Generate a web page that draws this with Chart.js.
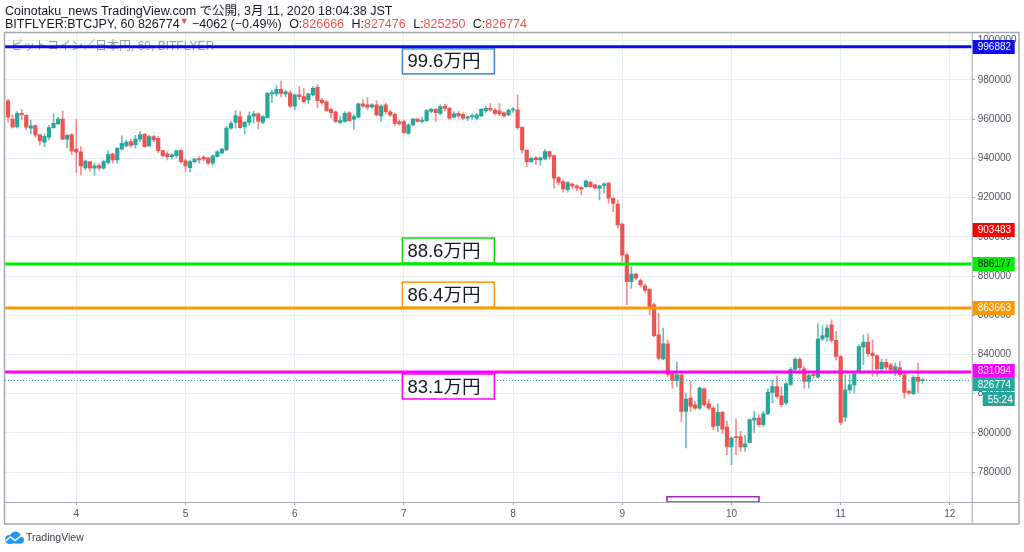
<!DOCTYPE html>
<html>
<head>
<meta charset="utf-8">
<script src="https://cdn.jsdelivr.net/npm/chart.js@4.4.1/dist/chart.umd.min.js"></script>
<style>
  html, body { margin: 0; padding: 0; background: #fff; overflow: hidden; }
  canvas { display: block; }
</style>
</head>
<body>
<canvas id="chart" width="1024" height="552"></canvas>
<script>
// BITFLYER:BTCJPY 60分足, 3/3 09:00 ～ 3/11 18:00 JST
const startDay = 3;
const startHour = 9;

const openP = [
  969300, 960100, 956200, 963000, 962000, 955400, 956700, 952000, 948300, 950800,
  955700, 957600, 960100, 949800, 952100, 944700, 943300, 935100, 938200, 935000,
  936300, 935000, 937900, 942300, 939200, 944700, 946400, 948600, 947000, 949800,
  952300, 946400, 951100, 950300, 944000, 942300, 940900, 941400, 944000, 938800,
  935300, 938400, 939900, 940600, 940300, 937600, 941000, 942800, 944300, 955400,
  958300, 961300, 956200, 958300, 961500, 962700, 958300, 960800, 972900, 972900,
  975200, 972900, 973500, 966700, 972400, 971500, 969800, 972400, 976300, 969800,
  968900, 965000, 963800, 958300, 958800, 963300, 960000, 961000, 967800, 967300,
  966300, 967300, 961700, 967300, 963800, 962500, 958800, 958800, 952800, 957100,
  960000, 958800, 959300, 963900, 965000, 963000, 966700, 965500, 961000, 963000,
  962500, 960500, 961300, 960500, 961700, 964400, 965500, 964700, 964200, 963300,
  962200, 964700, 964700, 955900, 944200, 938400, 940300, 939200, 939800, 943500,
  941400, 930200, 928200, 924000, 926900, 926000, 925200, 925600, 927900, 926500,
  924700, 926200, 927400, 919700, 916700, 906500, 890800, 877200, 881000, 877700,
  875000, 873300, 865400, 850100, 837700, 845500, 830200, 826800, 829700, 811000,
  817800, 814400, 812700, 822500, 814800, 812700, 803700, 810500, 803000, 792900,
  798200, 798200, 792900, 795000, 806500, 807600, 804200, 809800, 820700, 823700,
  819000, 815300, 824800, 832400, 837500, 832700, 826300, 829700, 828500, 847900,
  848900, 855200, 847200, 839000, 808100, 822000, 824500, 831600, 843800, 846400,
  840800, 839400, 832700, 836000, 834800, 830600, 833300, 829700, 821200, 820000,
  828400, 826666
];
const highP = [
  970200, 962200, 963900, 965000, 962200, 959600, 957000, 952500, 952500, 956900,
  962700, 961000, 964200, 952500, 952500, 960100, 946000, 939200, 938400, 937600,
  937400, 939200, 944000, 942700, 945700, 951500, 949400, 949900, 951800, 953700,
  952800, 951800, 951800, 951100, 944300, 943500, 942300, 944300, 944700, 939600,
  939200, 940100, 941000, 941400, 940600, 941800, 944000, 945200, 956200, 959100,
  964400, 963900, 958800, 963700, 964000, 963300, 961800, 973700, 974700, 977100,
  979500, 974900, 974500, 972900, 976700, 975700, 973200, 976600, 977600, 970600,
  969500, 965700, 964400, 961300, 963900, 963900, 962200, 968400, 970100, 971200,
  968000, 969500, 967300, 968400, 964700, 963000, 959500, 959600, 957600, 960500,
  960500, 961000, 965000, 965500, 965500, 967300, 967600, 966000, 963900, 963900,
  963300, 961700, 962700, 963000, 965500, 966700, 968000, 965500, 968000, 963900,
  965000, 966000, 972400, 956200, 944300, 940600, 940900, 940600, 944600, 943800,
  941800, 930700, 929000, 928200, 927500, 926500, 925700, 929000, 928200, 927000,
  926500, 927500, 927700, 920000, 918900, 907000, 891700, 884900, 881500, 878600,
  876000, 873800, 866400, 861100, 853500, 847500, 830600, 836300, 830200, 820400,
  826300, 816100, 823500, 823000, 817300, 813500, 814900, 811000, 805900, 797900,
  807100, 800800, 798800, 807100, 811000, 809300, 811000, 822400, 826800, 829100,
  823700, 825900, 833300, 838500, 838500, 834000, 830200, 831000, 855700, 854700,
  855200, 857700, 851800, 839400, 829700, 829700, 831300, 844900, 850100, 850600,
  847500, 839800, 837700, 837700, 835700, 835700, 836500, 830600, 821900, 829200,
  835700, 827476
];
const lowP = [
  958300, 955400, 955400, 959900, 954500, 952500, 950800, 946700, 945800, 949400,
  955400, 957300, 949400, 945300, 941800, 932800, 931600, 934100, 933400, 931400,
  934000, 934500, 937200, 937600, 937600, 944300, 945700, 945700, 945200, 948600,
  945700, 946000, 948600, 943000, 940600, 939200, 939600, 940300, 937600, 933300,
  933000, 937600, 937600, 938800, 936700, 936500, 940600, 942300, 944000, 954800,
  955400, 955400, 952500, 957000, 958000, 954900, 957700, 960500, 968400, 971900,
  971300, 971300, 966000, 964800, 970100, 968400, 968100, 971900, 965700, 967700,
  963900, 960500, 958300, 957700, 958300, 958800, 954800, 960500, 966000, 964800,
  965500, 961700, 958800, 962700, 961300, 956600, 956900, 952800, 952400, 956600,
  958300, 958000, 958800, 963300, 958800, 962200, 964200, 959900, 960500, 960500,
  959600, 959300, 960000, 959600, 961300, 963300, 963900, 962200, 961700, 961000,
  961700, 963500, 954800, 942700, 935800, 937900, 937000, 936500, 939200, 939800,
  924800, 926500, 922800, 922800, 924500, 923600, 921400, 925200, 925200, 924300,
  918800, 922300, 917200, 912900, 904500, 887400, 865400, 873800, 878000, 874500,
  871500, 860300, 849100, 837300, 837300, 828700, 822900, 823700, 805900, 792400,
  811000, 811800, 811800, 813500, 811800, 801700, 800800, 799800, 788900, 783800,
  788900, 790600, 790600, 795900, 800300, 803400, 803400, 809300, 815300, 817800,
  813500, 814400, 824000, 831600, 831600, 822900, 822900, 828000, 828000, 847200,
  846600, 846200, 837300, 804200, 805900, 820300, 820300, 830700, 834800, 839000,
  828900, 828900, 830700, 832200, 830200, 829200, 828700, 817800, 819700, 819500,
  820400, 825250
];
const closeP = [
  961000, 955900, 963000, 962200, 955900, 956600, 952000, 948900, 951300, 955700,
  957900, 960000, 949800, 951800, 943800, 943200, 936200, 938600, 935000, 936200,
  935000, 938400, 942100, 939200, 945200, 947700, 948300, 946600, 949800, 952000,
  946000, 951100, 949400, 944000, 941400, 940900, 941800, 944000, 938400, 936200,
  938400, 939600, 939200, 939800, 937600, 941300, 943300, 944700, 955500, 957900,
  961800, 955700, 958500, 961700, 962700, 958800, 961300, 973200, 973600, 975200,
  973200, 974000, 966700, 972400, 971500, 968900, 972900, 975700, 969500, 968400,
  964400, 963300, 958800, 959300, 963000, 959300, 961300, 967800, 966700, 966100,
  967300, 962200, 966700, 963800, 962200, 957900, 957600, 953100, 957100, 960000,
  958800, 959600, 964400, 965000, 963300, 966400, 965500, 960500, 962700, 961700,
  960500, 961300, 961700, 962200, 965000, 965500, 964700, 963000, 962700, 961700,
  964700, 965200, 955700, 944300, 938400, 940100, 939400, 940300, 943500, 941000,
  929900, 927700, 924500, 927700, 926000, 924900, 924300, 928500, 925600, 925000,
  926000, 927000, 919700, 917200, 906100, 890800, 877200, 881000, 878900, 875500,
  872700, 864500, 849600, 838200, 845500, 829700, 826800, 829700, 811000, 817300,
  813500, 812700, 822900, 814400, 812700, 803400, 810500, 802000, 793200, 797400,
  797600, 792900, 794500, 806800, 807600, 804200, 809800, 820700, 823700, 818600,
  814400, 825100, 832400, 837500, 833300, 826300, 829200, 829200, 847900, 849600,
  853500, 847200, 839000, 805400, 822000, 824500, 830100, 844100, 846400, 840400,
  839400, 832700, 836000, 833600, 832200, 833900, 829700, 820700, 820400, 828400,
  826300, 826774
];

// 軸目盛
const dayTicks = [4, 5, 6, 7, 8, 9, 10, 11, 12];
const priceTicks = [780000, 800000, 820000, 840000, 860000, 880000, 900000, 920000, 940000, 960000, 980000, 1000000];

// 水平線と注記
const levelValues = [996882, 886177, 863663, 831094];
const levelTexts = ['99.6万円', '88.6万円', '86.4万円', '83.1万円'];
const levelColors = ['#0b0bef', '#00f000', '#ff9800', '#ff00ff'];
const boxColors = ['#3d86d6', '#00e000', '#ff9800', '#ff00ff'];
const boxBelow = [true, false, false, true];

const lastPrice = 826774;
const redMark = 903483;
const countdown = '55:24';

const xMin = 3.347, xMax = 12.2;
const yMin = 764800, yMax = 1003950;

const UP = '#26a69a', DOWN = '#ef5350';
const UP_WICK = 'rgba(38,166,154,0.7)', DOWN_WICK = 'rgba(239,83,80,0.65)';

const times = openP.map((_, i) => startDay + (startHour + i) / 24);
const bodies = openP.map((o, i) => ({ x: times[i], y: [o, closeP[i]] }));
const wicks = openP.map((o, i) => ({ x: times[i], y: [lowP[i], highP[i]] }));
const isUp = openP.map((o, i) => closeP[i] >= o);

const levelSets = levelValues.map((v, i) => ({
    type: 'line',
    data: [{ x: xMin, y: v }, { x: xMax, y: v }],
    borderColor: levelColors[i],
    borderWidth: 3,
    pointRadius: 0,
    order: 1
}));

const FONT = '"Liberation Sans", "Noto Sans CJK JP", sans-serif';

function drawPriceTag(ctx, left, yc, w, value, bg, fg) {
    ctx.fillStyle = bg;
    ctx.fillRect(left, Math.round(yc - 7), w, 14);
    ctx.fillStyle = fg;
    ctx.font = '10px ' + FONT;
    ctx.textBaseline = 'middle';
    ctx.textAlign = 'left';
    ctx.fillText(value, left + 5, yc + 0.5);
}

const overlay = {
    id: 'overlay',
    beforeDatasetsDraw(chart) {
        const ctx = chart.ctx;
        ctx.save();
        ctx.fillStyle = '#9a9ca3';
        ctx.font = '12px ' + FONT;
        ctx.textBaseline = 'middle';
        ctx.fillText('ビットコイン／日本円, 60, BITFLYER', 11, 47);
        ctx.restore();
    },
    afterDatasetsDraw(chart) {
        const { ctx, scales: { x, y } } = chart;
        ctx.save();
        // 注記ボックス
        const bx = x.getPixelForValue(7) - 1.5;
        levelValues.forEach((v, i) => {
            const ly = y.getPixelForValue(v);
            const top = boxBelow[i] ? ly + 2 : ly - 26;
            ctx.fillStyle = '#fff';
            ctx.fillRect(bx, top, 92, 25);
            ctx.strokeStyle = boxColors[i];
            ctx.lineWidth = 1.5;
            ctx.strokeRect(bx, top, 92, 25);
            ctx.fillStyle = '#131722';
            ctx.font = '18.5px ' + FONT;
            ctx.textBaseline = 'middle';
            ctx.fillText(levelTexts[i], bx + 5, top + 13.5);
        });
        // 紫の枠
        const px1 = x.getPixelForValue(9.409), px2 = x.getPixelForValue(10.252);
        const py = y.getPixelForValue(767500);
        ctx.strokeStyle = '#9c27b0';
        ctx.lineWidth = 1.5;
        ctx.strokeRect(px1, py, px2 - px1, y.bottom - py);
        ctx.restore();
    },
    afterDraw(chart) {
        const { ctx, scales: { y }, chartArea } = chart;
        ctx.save();
        // 枠線
        ctx.strokeStyle = '#a5a8b0';
        ctx.lineWidth = 1.5;
        ctx.strokeRect(4.5, 32.5, 1014.5, 491.5);
        ctx.lineWidth = 1;
        ctx.beginPath();
        ctx.moveTo(4.5, chartArea.bottom + 0.5);
        ctx.lineTo(1019, chartArea.bottom + 0.5);
        ctx.moveTo(chartArea.right + 0.5, 32.5);
        ctx.lineTo(chartArea.right + 0.5, 524);
        ctx.stroke();

        // ヘッダー
        ctx.textBaseline = 'alphabetic';
        ctx.textAlign = 'left';
        ctx.font = '12.5px ' + FONT;
        ctx.fillStyle = '#131722';
        ctx.fillText('Coinotaku_news TradingView.com で公開, 3月 11, 2020 18:04:38 JST', 5, 15);
        const parts = [
            ['BITFLYER:BTCJPY, 60 826774', '#131722', 0],
            ['▼', DOWN, 0, '9px '],
            [' −4062 (−0.49%)', '#131722', 0],
            [' O:', '#131722', 4], ['826666', DOWN, 0],
            [' H:', '#131722', 4], ['827476', DOWN, 0],
            [' L:', '#131722', 4], ['825250', DOWN, 0],
            [' C:', '#131722', 4], ['826774', DOWN, 0]
        ];
        let cx = 5;
        parts.forEach(([t, c, gap, f]) => {
            cx += gap;
            ctx.font = (f || '12.5px ') + FONT;
            ctx.fillStyle = c;
            ctx.fillText(t, cx, f ? 24 : 28);
            cx += ctx.measureText(t).width;
        });

        // 価格ラベル
        const left = chartArea.right + 1;
        drawPriceTag(ctx, left, y.getPixelForValue(levelValues[0]), 42, '996882', levelColors[0], '#fff');
        drawPriceTag(ctx, left, y.getPixelForValue(redMark), 42, '903483', '#ff0000', '#fff');
        drawPriceTag(ctx, left, y.getPixelForValue(levelValues[1]), 42, '886177', '#00f000', '#131722');
        drawPriceTag(ctx, left, y.getPixelForValue(levelValues[2]), 42, '863663', '#ff9800', '#fff');
        drawPriceTag(ctx, left, y.getPixelForValue(levelValues[3]) - 1, 42, '831094', '#ff00ff', '#fff');
        const ly = y.getPixelForValue(lastPrice);
        drawPriceTag(ctx, left, ly + 4, 42, '826774', UP, '#fff');
        drawPriceTag(ctx, left + 10, ly + 19, 32, countdown, UP, '#fff');

        // ロゴ
        ctx.fillStyle = '#2196f3';
        ctx.beginPath();
        ctx.arc(9.5, 539.5, 4.5, 0, Math.PI * 2);
        ctx.arc(15.5, 537, 5.5, 0, Math.PI * 2);
        ctx.arc(20.5, 540, 3.5, 0, Math.PI * 2);
        ctx.fill();
        ctx.fillRect(9.5, 538, 11, 5.5);
        ctx.strokeStyle = '#fff';
        ctx.lineWidth = 1.5;
        ctx.beginPath();
        ctx.moveTo(5.5, 541);
        ctx.lineTo(10.5, 537);
        ctx.lineTo(15, 540.5);
        ctx.lineTo(22, 535);
        ctx.stroke();
        ctx.fillStyle = '#3b3e47';
        ctx.font = '10.5px ' + FONT;
        ctx.textBaseline = 'middle';
        ctx.fillText('TradingView', 26, 538.5);
        ctx.restore();
    }
};

new Chart(document.getElementById('chart'), {
    type: 'bar',
    data: {
        datasets: [
            {
                data: wicks,
                backgroundColor: isUp.map(u => u ? UP_WICK : DOWN_WICK),
                barThickness: 1,
                grouped: false,
                order: 3
            },
            {
                data: bodies,
                backgroundColor: isUp.map(u => u ? UP : DOWN),
                barThickness: 3.5,
                minBarLength: 1,
                grouped: false,
                order: 2
            },
            ...levelSets,
            {
                type: 'line',
                data: [{ x: xMin, y: lastPrice }, { x: xMax, y: lastPrice }],
                borderColor: UP,
                borderWidth: 1,
                borderDash: [1, 2],
                pointRadius: 0,
                order: 1
            }
        ]
    },
    options: {
        responsive: false,
        animation: false,
        events: [],
        layout: { padding: { left: 5, right: 5, top: 33, bottom: 28 } },
        plugins: {
            legend: { display: false },
            tooltip: { enabled: false }
        },
        scales: {
            x: {
                type: 'linear',
                min: xMin,
                max: xMax,
                offset: false,
                afterBuildTicks: s => { s.ticks = dayTicks.map(v => ({ value: v })); },
                afterFit: s => { s.height = 22; },
                ticks: { padding: 3, color: '#50535e', font: { size: 10, family: FONT }, maxRotation: 0, autoSkip: false, callback: v => String(v) },
                grid: { color: '#e9eef4', offset: false, tickLength: 3, tickColor: '#a5a8b0' },
                border: { display: false }
            },
            y: {
                type: 'linear',
                position: 'right',
                min: yMin,
                max: yMax,
                afterBuildTicks: s => { s.ticks = priceTicks.map(v => ({ value: v })); },
                afterFit: s => { s.width = 47.3; },
                ticks: { padding: 3, color: '#50535e', font: { size: 10, family: FONT }, autoSkip: false, callback: v => String(v) },
                grid: { color: '#e9eef4', tickLength: 3, tickColor: '#a5a8b0' },
                border: { display: false }
            }
        }
    },
    plugins: [overlay]
});
</script>
</body>
</html>
